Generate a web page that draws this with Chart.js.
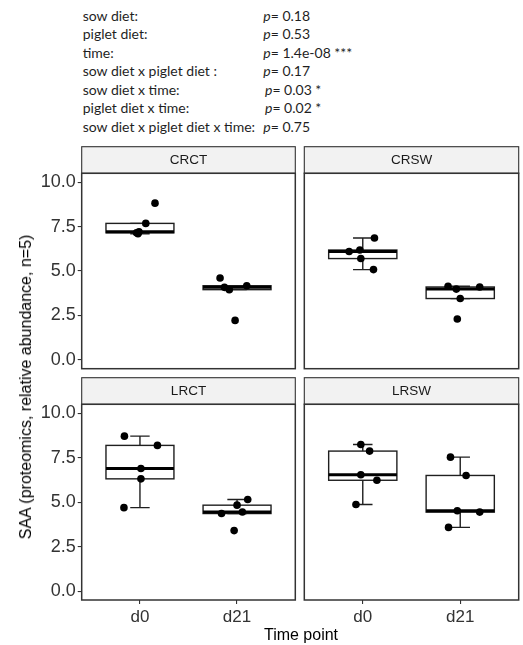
<!DOCTYPE html>
<html>
<head>
<meta charset="utf-8">
<script src="https://cdn.jsdelivr.net/npm/chart.js@4/dist/chart.umd.min.js"></script>
<style>
  html, body { margin: 0; padding: 0; background: #fff; }
  #wrap { position: relative; width: 523px; height: 645px; overflow: hidden; background: #fff; }
  canvas.panel { position: absolute; left: 0; top: 0; }
  .statRow { position: absolute; left: 0; height: 18px; line-height: 18px; font: 14px Lato, "Open Sans", sans-serif; color: #1F1F1F; white-space: nowrap; }
  .statRow .term { position: absolute; left: 82.7px; }
  .statRow .pval { position: absolute; left: 263.3px; }
  .statRow i { font-style: italic; }
  #xtitle { position: absolute; left: 301px; top: 635px; transform: translate(-50%, -50%); font: 16px "Liberation Sans", Arial, sans-serif; color: #000; white-space: nowrap; }
  #ytitle { position: absolute; left: 26px; top: 386.7px; transform: translate(-50%, -50%) rotate(-90deg); font: 16px "Liberation Sans", Arial, sans-serif; color: #000; white-space: nowrap; }
</style>
</head>
<body>
<div id="wrap">
  <div id="stats"></div>
  <canvas id="p0" class="panel" width="523" height="645"></canvas>
  <canvas id="p1" class="panel" width="523" height="645"></canvas>
  <canvas id="p2" class="panel" width="523" height="645"></canvas>
  <canvas id="p3" class="panel" width="523" height="645"></canvas>
  <div id="xtitle">Time point</div>
  <div id="ytitle">SAA (proteomics, relative abundance, n=5)</div>
</div>
<script>
// ---- data ----
const groupNames = ['CRCT', 'CRSW', 'LRCT', 'LRSW'];
const timeLabels = ['d0', 'd21'];
const yTickValues = [0, 2.5, 5, 7.5, 10];

// SAA relative abundance per piglet (n = 5) for each group and time point
const crctD0  = [8.82, 7.68, 7.21, 7.15, 7.10];
const crctD21 = [4.61, 4.08, 3.95, 4.17, 2.22];
const crswD0  = [6.86, 6.10, 6.18, 5.70, 5.08];
const crswD21 = [4.14, 3.98, 4.10, 3.45, 2.30];
const lrctD0  = [8.71, 8.19, 6.89, 6.31, 4.69];
const lrctD21 = [5.15, 4.83, 4.36, 4.45, 3.40];
const lrswD0  = [8.24, 7.87, 6.54, 6.23, 4.87];
const lrswD21 = [7.53, 6.50, 4.52, 4.44, 3.58];

// horizontal jitter of each point, in category units
const crctD0Jit  = [0.155, 0.06, -0.01, -0.035, -0.02];
const crctD21Jit = [-0.175, -0.13, -0.08, 0.10, -0.02];
const crswD0Jit  = [0.12, -0.14, -0.03, -0.02, 0.11];
const crswD21Jit = [-0.125, -0.04, 0.20, 0.0, -0.03];
const lrctD0Jit  = [-0.16, 0.18, 0.01, 0.01, -0.165];
const lrctD21Jit = [0.11, 0.0, -0.16, 0.055, -0.03];
const lrswD0Jit  = [-0.02, 0.07, -0.02, 0.145, -0.07];
const lrswD21Jit = [-0.10, 0.06, -0.03, 0.20, -0.12];

// mixed-model terms and their p-values
const statTerms = ['sow diet:', 'piglet diet:', 'time:', 'sow diet x piglet diet :',
                   'sow diet x time:', 'piglet diet x time:', 'sow diet x piglet diet x time:'];
const statP     = ['0.18', '0.53', '1.4e-08', '0.17', '0.03', '0.02', '0.75'];
const statStars = ['', '', '***', '', '*', '*', ''];

const panelValues = [[crctD0, crctD21], [crswD0, crswD21], [lrctD0, lrctD21], [lrswD0, lrswD21]];
const panelJitter = [[crctD0Jit, crctD21Jit], [crswD0Jit, crswD21Jit], [lrctD0Jit, lrctD21Jit], [lrswD0Jit, lrswD21Jit]];

// ---- statistics table above the panels ----
const statsBox = document.getElementById('stats');
const statRowCentres = [15.7, 34.4, 53, 71.4, 89.6, 108, 126.6];
statTerms.forEach((t, i) => {
  const row = document.createElement('div');
  row.className = 'statRow';
  row.style.top = (statRowCentres[i] - 9) + 'px';
  const term = document.createElement('span');
  term.className = 'term';
  term.textContent = t;
  const pv = document.createElement('span');
  pv.className = 'pval';
  if (i === 4 || i === 5) pv.style.left = '265px';
  const it = document.createElement('i');
  it.textContent = 'p';
  pv.appendChild(it);
  pv.appendChild(document.createTextNode('= ' + statP[i] + (statStars[i] ? ' ' + statStars[i] : '')));
  row.appendChild(term);
  row.appendChild(pv);
  statsBox.appendChild(row);
});

// ---- facet geometry ----
const PAGE_W = 523, PAGE_H = 645;
const colLeft = [81.7, 304.3], colRight = [295.3, 518.7];
const rowTop = [173.3, 404.3], rowBottom = [368.7, 600];
const STRIP_H = 26.6;
const BOX_W = 0.7, CAP_W = 0.2;
const INK = '#1F1F1F';

// five-number summary with Tukey whiskers (1.5 x IQR)
function boxStats(vals) {
  const s = [...vals].sort((a, b) => a - b);
  const q = p => {
    const h = (s.length - 1) * p, lo = Math.floor(h);
    const hi = Math.min(lo + 1, s.length - 1);
    return s[lo] + (h - lo) * (s[hi] - s[lo]);
  };
  const q1 = q(0.25), med = q(0.5), q3 = q(0.75), iqr = q3 - q1;
  const inside = s.filter(v => v >= q1 - 1.5 * iqr && v <= q3 + 1.5 * iqr);
  return { q1, med, q3, lo: Math.min(...inside), hi: Math.max(...inside) };
}

function makeBoxPlugin(groups) {
  return {
    id: 'boxes',
    beforeDatasetsDraw(chart) {
      const { ctx, scales: { x, y } } = chart;
      ctx.save();
      groups.forEach((vals, i) => {
        const st = boxStats(vals);
        const c = i + 1;
        const xc = x.getPixelForValue(c);
        const xl = x.getPixelForValue(c - BOX_W / 2), xr = x.getPixelForValue(c + BOX_W / 2);
        const cl = x.getPixelForValue(c - CAP_W / 2), cr = x.getPixelForValue(c + CAP_W / 2);
        const yLo = y.getPixelForValue(st.lo), yHi = y.getPixelForValue(st.hi);
        const yQ1 = y.getPixelForValue(st.q1), yQ3 = y.getPixelForValue(st.q3);
        const yMed = y.getPixelForValue(st.med);
        ctx.strokeStyle = INK;
        ctx.lineWidth = 1.4;
        // whisker error bar with caps
        ctx.beginPath();
        ctx.moveTo(xc, yLo); ctx.lineTo(xc, yHi);
        ctx.moveTo(cl, yLo); ctx.lineTo(cr, yLo);
        ctx.moveTo(cl, yHi); ctx.lineTo(cr, yHi);
        ctx.stroke();
        // box
        ctx.fillStyle = '#fff';
        ctx.fillRect(xl, yQ3, xr - xl, yQ1 - yQ3);
        ctx.strokeRect(xl, yQ3, xr - xl, yQ1 - yQ3);
        // median
        ctx.lineWidth = 3;
        ctx.strokeStyle = '#000';
        ctx.beginPath();
        ctx.moveTo(xl, yMed); ctx.lineTo(xr, yMed);
        ctx.stroke();
      });
      ctx.restore();
    }
  };
}

function makeFramePlugin(title) {
  return {
    id: 'frame',
    afterDraw(chart) {
      const { ctx, chartArea: a } = chart;
      ctx.save();
      // strip
      ctx.fillStyle = '#F2F2F2';
      ctx.fillRect(a.left, a.top - STRIP_H, a.right - a.left, STRIP_H);
      ctx.strokeStyle = '#333';
      ctx.lineWidth = 1.1;
      ctx.strokeRect(a.left, a.top - STRIP_H, a.right - a.left, STRIP_H);
      ctx.fillStyle = '#1A1A1A';
      ctx.font = '13.5px "Liberation Sans", Arial, sans-serif';
      ctx.textAlign = 'center';
      ctx.textBaseline = 'middle';
      ctx.fillText(title, (a.left + a.right) / 2, a.top - STRIP_H / 2 + 0.5);
      // panel border
      ctx.strokeStyle = '#333';
      ctx.lineWidth = 1.5;
      ctx.strokeRect(a.left, a.top, a.right - a.left, a.bottom - a.top);
      ctx.restore();
    }
  };
}

groupNames.forEach((name, idx) => {
  const col = idx % 2, row = Math.floor(idx / 2);
  const L = colLeft[col], R = colRight[col], T = rowTop[row], B = rowBottom[row];
  const showX = row === 1, showY = col === 0;
  const datasets = panelValues[idx].map((vals, t) => ({
    data: vals.map((v, k) => ({ x: t + 1 + panelJitter[idx][t][k], y: v })),
    pointRadius: 3.8,
    pointBackgroundColor: '#000',
    pointBorderWidth: 0,
    showLine: false
  }));
  new Chart(document.getElementById('p' + idx), {
    type: 'scatter',
    data: { datasets },
    options: {
      responsive: false,
      animation: false,
      events: [],
      layout: {
        padding: {
          left: showY ? 0 : L,
          right: PAGE_W - R,
          top: T,
          bottom: showX ? 0 : PAGE_H - B
        }
      },
      plugins: { legend: { display: false }, tooltip: { enabled: false } },
      scales: {
        x: {
          type: 'linear',
          min: 0.4, max: 2.6,
          display: showX,
          afterBuildTicks: s => { s.ticks = timeLabels.map((_, i) => ({ value: i + 1 })); },
          afterFit: s => { s.height = showX ? PAGE_H - B : 0; },
          ticks: {
            autoSkip: false, maxRotation: 0, padding: 3,
            callback: (v, i) => timeLabels[i],
            font: { family: '"Liberation Sans", Arial, sans-serif', size: 17 },
            color: '#333'
          },
          grid: { drawOnChartArea: false, drawTicks: true, tickLength: 4, color: '#333', lineWidth: 1.1 },
          border: { display: false }
        },
        y: {
          type: 'linear',
          min: -0.5, max: 10.5,
          display: showY,
          afterBuildTicks: s => { s.ticks = yTickValues.map(v => ({ value: v })); },
          afterFit: s => { s.width = showY ? L : 0; },
          ticks: {
            autoSkip: false, padding: 2,
            callback: (v, i) => yTickValues[i].toFixed(1),
            font: { family: '"Liberation Sans", Arial, sans-serif', size: 18 },
            color: '#333'
          },
          grid: { drawOnChartArea: false, drawTicks: true, tickLength: 4, color: '#333', lineWidth: 1.1 },
          border: { display: false }
        }
      }
    },
    plugins: [makeBoxPlugin(panelValues[idx]), makeFramePlugin(name)]
  });
});
</script>
</body>
</html>
